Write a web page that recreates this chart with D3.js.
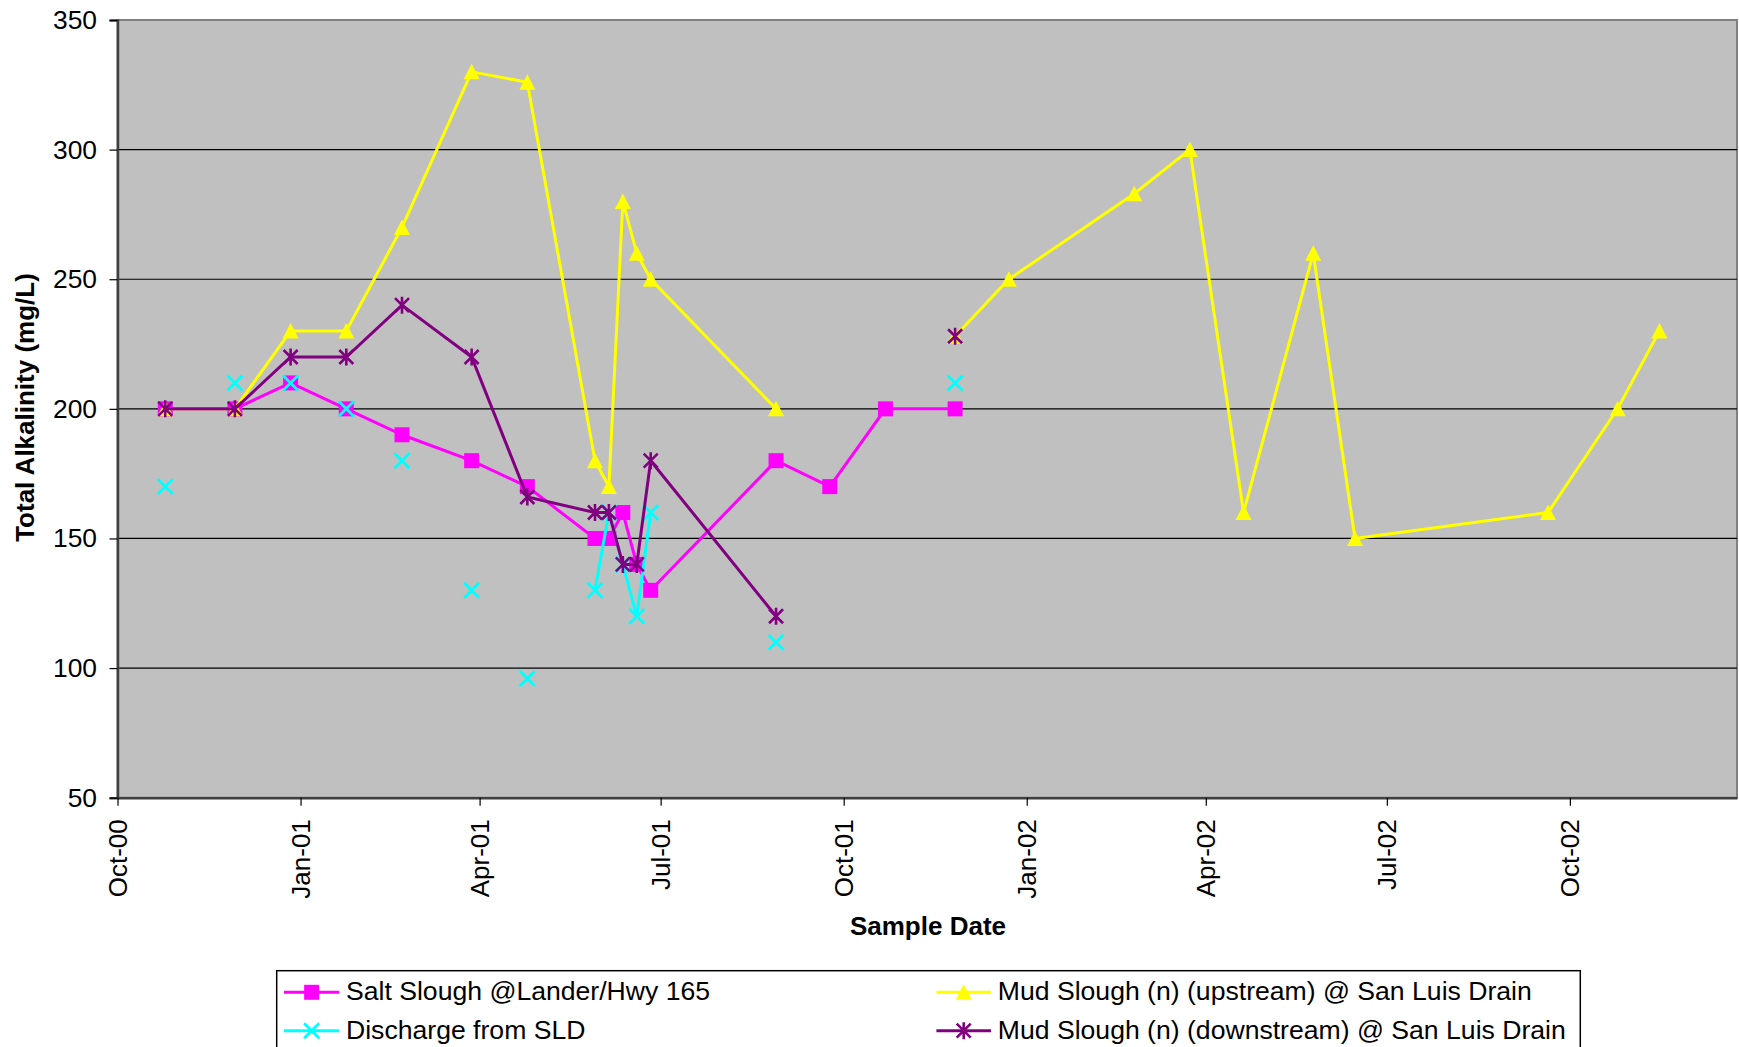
<!DOCTYPE html>
<html><head><meta charset="utf-8">
<script src="https://cdn.jsdelivr.net/npm/d3@7"></script>
<style>html,body{margin:0;padding:0;background:#fff;} svg{display:block;font-family:Arial,"Liberation Sans",sans-serif;}</style>
</head><body>
<svg id="chart" width="1739" height="1047"></svg>
<script>
// ---------- data ----------
const saltDates = ["2000-10-25","2000-11-29","2000-12-27","2001-01-24","2001-02-21","2001-03-28","2001-04-25","2001-05-29","2001-06-05","2001-06-12","2001-06-19","2001-06-26","2001-08-28","2001-09-24","2001-10-22","2001-11-26"];
const saltValues = [200,200,210,200,190,180,170,150,150,160,140,130,180,170,200,200];

const dischargeDates = ["2000-10-25",null,"2000-11-29",null,"2000-12-27",null,"2001-01-24",null,"2001-02-21",null,"2001-03-28",null,"2001-04-25",null,"2001-05-29","2001-06-05","2001-06-12","2001-06-19","2001-06-26",null,"2001-08-28",null,"2001-11-26"];
const dischargeValues = [170,null,210,null,210,null,200,null,180,null,130,null,96,null,130,160,140,120,160,null,110,null,210];

const upstreamDates = ["2000-10-25","2000-11-29","2000-12-27","2001-01-24","2001-02-21","2001-03-28","2001-04-25","2001-05-29","2001-06-05","2001-06-12","2001-06-19","2001-06-26","2001-08-28",null,"2001-11-26","2001-12-23","2002-02-24","2002-03-24","2002-04-20","2002-05-25","2002-06-15","2002-09-20","2002-10-25","2002-11-15"];
const upstreamValues = [200,200,230,230,270,330,326,180,170,280,260,250,200,null,228,250,283,300,160,260,150,160,200,230];

const downstreamDates = ["2000-10-25","2000-11-29","2000-12-27","2001-01-24","2001-02-21","2001-03-28","2001-04-25","2001-05-29","2001-06-05","2001-06-12","2001-06-19","2001-06-26","2001-08-28",null,"2001-11-26"];
const downstreamValues = [200,200,220,220,240,220,166,160,160,140,140,180,120,null,228];

const seriesNames = ["Salt Slough @Lander/Hwy 165","Discharge from SLD","Mud Slough (n) (upstream) @ San Luis Drain","Mud Slough (n) (downstream) @ San Luis Drain"];
const seriesColors = ["#FF00FF","#00FFFF","#FFFF00","#800080"];
const seriesMarkers = ["square","x","triangle","star"];

const yTickValues = [50,100,150,200,250,300,350];
const xTickDates = ["2000-10-01","2001-01-01","2001-04-01","2001-07-01","2001-10-01","2002-01-01","2002-04-01","2002-07-01","2002-10-01"];
const xDomainDates = ["2000-10-01","2002-12-24"];
const yDomain = [50,350];
const xTitle = "Sample Date";
const yTitle = "Total Alkalinity (mg/L)";

// ---------- setup ----------
const parse = d3.timeParse("%Y-%m-%d");
const fmt = d3.timeFormat("%b-%y");
const svg = d3.select("#chart");
const plot = {left:117.5, right:1737, top:20, bottom:797.7};

const x = d3.scaleTime().domain(xDomainDates.map(parse)).range([plot.left, plot.right]);
const y = d3.scaleLinear().domain(yDomain).range([plot.bottom, plot.top]);

function build(dates, values){
  return dates.map((d,i)=>({date: d?parse(d):null, v: values[i]}));
}
const series = [
  build(saltDates, saltValues),
  build(dischargeDates, dischargeValues),
  build(upstreamDates, upstreamValues),
  build(downstreamDates, downstreamValues)
];

// plot background
svg.append("rect").attr("x",plot.left).attr("y",plot.top)
  .attr("width",plot.right-plot.left).attr("height",plot.bottom-plot.top)
  .attr("fill","#C0C0C0").attr("stroke","#808080").attr("stroke-width",2);

// gridlines
svg.append("g").selectAll("line").data(yTickValues.filter(v=>v>yDomain[0] && v<yDomain[1])).join("line")
  .attr("x1",plot.left).attr("x2",plot.right)
  .attr("y1",d=>y(d)).attr("y2",d=>y(d))
  .attr("stroke","#000").attr("stroke-width",1.2);

// axes
const yAxis = svg.append("g").attr("transform",`translate(${plot.left},0)`)
  .call(d3.axisLeft(y).tickValues(yTickValues).tickSize(8).tickPadding(12.5));
yAxis.select(".domain").attr("stroke","#404040").attr("stroke-width",2.5);
yAxis.selectAll(".tick line").attr("stroke","#000").attr("stroke-width",1.2);
yAxis.selectAll(".tick text").attr("font-size",26.4).attr("font-family","Arial, 'Liberation Sans', sans-serif").attr("fill","#000");

const xAxis = svg.append("g").attr("transform",`translate(0,${plot.bottom})`)
  .call(d3.axisBottom(x).tickValues(xTickDates.map(parse)).tickFormat(fmt).tickSize(8).tickSizeOuter(0));
xAxis.select(".domain").attr("stroke","#404040").attr("stroke-width",2.5);
xAxis.selectAll(".tick line").attr("stroke","#000").attr("stroke-width",1.2);
xAxis.selectAll(".tick text")
  .attr("font-size",26).attr("font-family","Arial, 'Liberation Sans', sans-serif").attr("fill","#000")
  .attr("text-anchor","end").attr("transform","rotate(-90)")
  .attr("x",-21.5).attr("y",0).attr("dy","0.35em");

// titles
svg.append("text").attr("x",928).attr("y",935).attr("text-anchor","middle")
  .attr("font-size",26).attr("font-weight","bold").text(xTitle);
svg.append("text").attr("transform","translate(33.5,407.5) rotate(-90)").attr("text-anchor","middle")
  .attr("font-size",26).attr("font-weight","bold").text(yTitle);

// markers
function drawMarker(g, type, color, cx, cy){
  if(type==="square"){
    g.append("rect").attr("x",cx-7.5).attr("y",cy-7.5).attr("width",15).attr("height",15).attr("fill",color);
  } else if(type==="triangle"){
    g.append("path").attr("d",`M${cx},${cy-8}L${cx+8},${cy+7.5}L${cx-8},${cy+7.5}Z`).attr("fill",color);
  } else if(type==="x"){
    g.append("path").attr("d",`M${cx-7.5},${cy-7.5}L${cx+7.5},${cy+7.5}M${cx-7.5},${cy+7.5}L${cx+7.5},${cy-7.5}`)
      .attr("stroke",color).attr("stroke-width",2.8).attr("fill","none");
  } else if(type==="star"){
    g.append("path").attr("d",`M${cx-7},${cy-7}L${cx+7},${cy+7}M${cx-7},${cy+7}L${cx+7},${cy-7}M${cx},${cy-8.5}L${cx},${cy+8.5}`)
      .attr("stroke",color).attr("stroke-width",2.6).attr("fill","none");
  }
}

const line = d3.line().defined(d=>d.v!=null).x(d=>x(d.date)).y(d=>y(d.v));
series.forEach((s,i)=>{
  const g = svg.append("g");
  g.append("path").datum(s).attr("d",line).attr("fill","none")
    .attr("stroke",seriesColors[i]).attr("stroke-width",3).attr("stroke-linejoin","miter");
  s.filter(d=>d.v!=null).forEach(d=>drawMarker(g, seriesMarkers[i], seriesColors[i], x(d.date), y(d.v)));
});

// legend
const legend = svg.append("g");
legend.append("rect").attr("x",276.7).attr("y",970.7).attr("width",1580.3-276.7).attr("height",100)
  .attr("fill","#fff").attr("stroke","#000").attr("stroke-width",1.5);
const legPos = [
  {x1:284, x2:339.3, tx:346, cy:992.3, by:1000},
  {x1:284, x2:339.3, tx:346, cy:1030.7, by:1038.6},
  {x1:936.4, x2:991, tx:997.8, cy:992.3, by:1000},
  {x1:936.4, x2:991, tx:997.8, cy:1030.7, by:1038.6}
];
seriesNames.forEach((name,i)=>{
  const p = legPos[i];
  const g = legend.append("g");
  g.append("line").attr("x1",p.x1).attr("x2",p.x2).attr("y1",p.cy).attr("y2",p.cy)
    .attr("stroke",seriesColors[i]).attr("stroke-width",3);
  drawMarker(g, seriesMarkers[i], seriesColors[i], (p.x1+p.x2)/2, p.cy);
  g.append("text").attr("x",p.tx).attr("y",p.by).attr("font-size",26.6).attr("fill","#000").text(name);
});
</script>
</body></html>
